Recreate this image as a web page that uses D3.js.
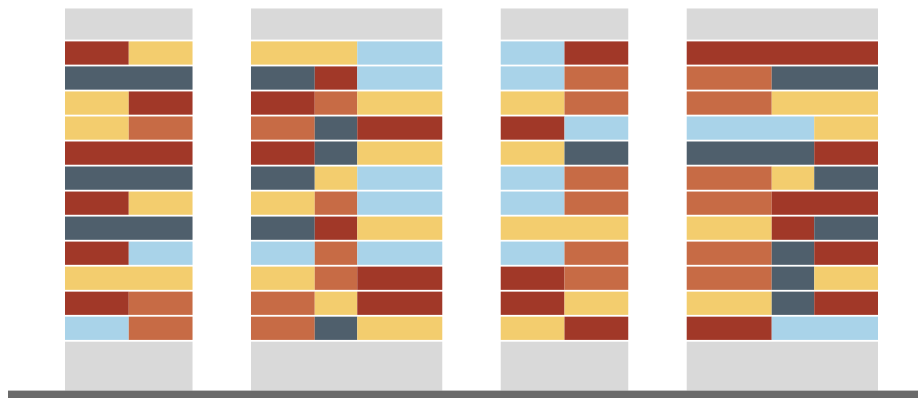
<!DOCTYPE html>
<html>
<head>
<meta charset="utf-8">
<script src="https://cdn.jsdelivr.net/npm/d3@7"></script>
<style>
  html, body { margin: 0; padding: 0; background: #fff; }
  svg { display: block; }
</style>
</head>
<body>
<script>
// palette codes used in the row arrays
var palette = {
  R: '#a13828',
  Y: '#f3cd6e',
  S: '#4f5f6c',
  O: '#c76b45',
  B: '#a9d3e9'
}

// slot widths (in units) for each column
var slots1 = [3, 3]
var slots2 = [3, 2, 4]
var slots3 = [3, 3]
var slots4 = [4, 2, 3]

// rows top to bottom, one colour code per slot
var rows1 = [
  ['R', 'Y'], ['S', 'S'], ['Y', 'R'], ['Y', 'O'], ['R', 'R'], ['S', 'S'],
  ['R', 'Y'], ['S', 'S'], ['R', 'B'], ['Y', 'Y'], ['R', 'O'], ['B', 'O']
]
var rows2 = [
  ['Y', 'Y', 'B'], ['S', 'R', 'B'], ['R', 'O', 'Y'], ['O', 'S', 'R'],
  ['R', 'S', 'Y'], ['S', 'Y', 'B'], ['Y', 'O', 'B'], ['S', 'R', 'Y'],
  ['B', 'O', 'B'], ['Y', 'O', 'R'], ['O', 'Y', 'R'], ['O', 'S', 'Y']
]
var rows3 = [
  ['B', 'R'], ['B', 'O'], ['Y', 'O'], ['R', 'B'], ['Y', 'S'], ['B', 'O'],
  ['B', 'O'], ['Y', 'Y'], ['B', 'O'], ['R', 'O'], ['R', 'Y'], ['Y', 'R']
]
var rows4 = [
  ['R', 'R', 'R'], ['O', 'S', 'S'], ['O', 'Y', 'Y'], ['B', 'B', 'Y'],
  ['S', 'S', 'R'], ['O', 'Y', 'S'], ['O', 'R', 'R'], ['Y', 'R', 'S'],
  ['O', 'S', 'R'], ['O', 'S', 'Y'], ['Y', 'S', 'R'], ['R', 'B', 'B']
]

var columns = [
  {slots: slots1, rows: rows1},
  {slots: slots2, rows: rows2},
  {slots: slots3, rows: rows3},
  {slots: slots4, rows: rows4}
]

var width = 918, height = 398
var gapUnits = 2.75
var bg = '#d9d9d9'

var svg = d3.select('body').append('svg')
  .attr('width', width)
  .attr('height', height)

// lay columns out along one unit axis
var offset = 0
columns.forEach(function (c, i) {
  c.total = d3.sum(c.slots)
  c.start = offset
  offset += c.total + (i < columns.length - 1 ? gapUnits : 0)
})

var x = d3.scaleLinear().domain([0, offset]).range([65, 878])

// rows: linear in row units, gray caps above and below
var y = d3.scaleLinear().domain([0, 12]).range([40.5, 340.8])
var rowGap = 1.8
var topCap = -1.28, bottomCap = 13.99

// turn each row into merged segments
columns.forEach(function (c) {
  c.segs = []
  c.rows.forEach(function (r, ri) {
    var pos = 0
    r.forEach(function (code, si) {
      var last = c.segs[c.segs.length - 1]
      if (si > 0 && last && last.row === ri && last.code === code) {
        last.w += c.slots[si]
      } else {
        c.segs.push({row: ri, code: code, x0: pos, w: c.slots[si]})
      }
      pos += c.slots[si]
    })
  })
})

var cols = svg.selectAll('g.col')
  .data(columns)
  .enter().append('g')
  .attr('class', 'col')

// gray caps
cols.append('rect')
  .attr('x', function (c) { return x(c.start) })
  .attr('width', function (c) { return x(c.start + c.total) - x(c.start) })
  .attr('y', y(topCap))
  .attr('height', y(0) - y(topCap) - rowGap / 2)
  .attr('fill', bg)

cols.append('rect')
  .attr('x', function (c) { return x(c.start) })
  .attr('width', function (c) { return x(c.start + c.total) - x(c.start) })
  .attr('y', y(12) + rowGap / 2)
  .attr('height', y(bottomCap) - y(12) - rowGap / 2)
  .attr('fill', bg)

cols.selectAll('rect.seg')
  .data(function (c) {
    return c.segs.map(function (s) { return Object.assign({start: c.start}, s) })
  })
  .enter().append('rect')
  .attr('class', 'seg')
  .attr('x', function (s) { return x(s.start + s.x0) })
  .attr('width', function (s) { return x(s.start + s.x0 + s.w) - x(s.start + s.x0) })
  .attr('y', function (s) { return y(s.row) + rowGap / 2 })
  .attr('height', function (s) { return y(s.row + 1) - y(s.row) - rowGap })
  .attr('fill', function (s) { return palette[s.code] })

// base line
svg.append('rect')
  .attr('x', 8)
  .attr('y', y(bottomCap))
  .attr('width', width - 8)
  .attr('height', height - y(bottomCap))
  .attr('fill', '#6a6a6a')
</script>
</body>
</html>
